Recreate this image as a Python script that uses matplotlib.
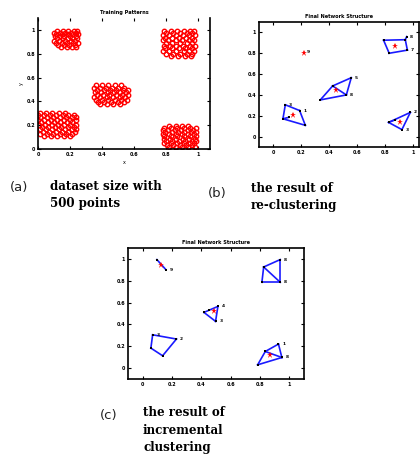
import matplotlib
matplotlib.use("Agg")
import matplotlib.pyplot as plt

# (a) training patterns: rows of points (y level -> x positions)
cluster_tl = {
    0.995: [0.12, 0.155, 0.19, 0.225, 0.245],
    0.978: [0.10, 0.135, 0.17, 0.205, 0.235],
    0.962: [0.115, 0.15, 0.185, 0.22, 0.25],
    0.945: [0.105, 0.14, 0.165, 0.20, 0.235],
    0.928: [0.12, 0.155, 0.19, 0.215, 0.245],
    0.910: [0.10, 0.13, 0.17, 0.205, 0.23],
    0.893: [0.115, 0.15, 0.18, 0.22, 0.25],
    0.875: [0.125, 0.16, 0.195, 0.23],
    0.857: [0.145, 0.18, 0.21, 0.24],
}
cluster_tr = {
    0.995: [0.79, 0.83, 0.87, 0.91, 0.95, 0.975],
    0.975: [0.80, 0.845, 0.885, 0.93, 0.965],
    0.955: [0.78, 0.82, 0.86, 0.905, 0.945, 0.98],
    0.935: [0.795, 0.835, 0.88, 0.925, 0.96],
    0.912: [0.78, 0.815, 0.865, 0.90, 0.945, 0.975],
    0.890: [0.80, 0.84, 0.885, 0.93, 0.965],
    0.868: [0.785, 0.825, 0.86, 0.905, 0.95, 0.98],
    0.845: [0.795, 0.84, 0.88, 0.92, 0.96],
    0.822: [0.78, 0.82, 0.865, 0.91, 0.945, 0.975],
    0.800: [0.80, 0.845, 0.885, 0.93, 0.965],
    0.780: [0.83, 0.875, 0.92, 0.955],
}
cluster_mid = {
    0.535: [0.36, 0.40, 0.44, 0.48, 0.52],
    0.515: [0.35, 0.385, 0.425, 0.465, 0.50, 0.54],
    0.495: [0.37, 0.41, 0.45, 0.49, 0.53, 0.56],
    0.475: [0.355, 0.395, 0.435, 0.475, 0.515, 0.55],
    0.455: [0.37, 0.405, 0.445, 0.49, 0.525, 0.56],
    0.435: [0.35, 0.39, 0.43, 0.47, 0.51, 0.545],
    0.415: [0.365, 0.40, 0.44, 0.48, 0.52, 0.555],
    0.395: [0.375, 0.415, 0.455, 0.50, 0.535],
    0.378: [0.39, 0.43, 0.47, 0.51],
}
cluster_bl = {
    0.305: [0.01, 0.05, 0.09, 0.13, 0.17],
    0.285: [0.0, 0.035, 0.075, 0.115, 0.155, 0.19, 0.225],
    0.265: [0.015, 0.055, 0.095, 0.135, 0.175, 0.21, 0.24],
    0.245: [0.0, 0.04, 0.08, 0.12, 0.16, 0.20, 0.235],
    0.225: [0.02, 0.06, 0.10, 0.14, 0.18, 0.215],
    0.205: [0.005, 0.045, 0.085, 0.125, 0.165, 0.20, 0.24],
    0.185: [0.025, 0.065, 0.105, 0.145, 0.185, 0.225],
    0.165: [0.01, 0.05, 0.09, 0.13, 0.17, 0.21, 0.24],
    0.145: [0.03, 0.07, 0.11, 0.15, 0.19, 0.23],
    0.125: [0.015, 0.055, 0.095, 0.135, 0.175, 0.215],
    0.105: [0.04, 0.08, 0.12, 0.16, 0.20],
}
cluster_br = {
    0.195: [0.82, 0.86, 0.90, 0.94],
    0.178: [0.79, 0.83, 0.87, 0.91, 0.95, 0.985],
    0.160: [0.78, 0.815, 0.855, 0.895, 0.935, 0.97],
    0.142: [0.795, 0.835, 0.875, 0.915, 0.955, 0.99],
    0.124: [0.78, 0.82, 0.86, 0.90, 0.94, 0.975],
    0.106: [0.79, 0.83, 0.87, 0.91, 0.95, 0.985],
    0.088: [0.785, 0.825, 0.865, 0.905, 0.945, 0.98],
    0.070: [0.80, 0.84, 0.88, 0.92, 0.96, 0.99],
    0.052: [0.79, 0.83, 0.87, 0.91, 0.95, 0.975],
    0.034: [0.805, 0.845, 0.885, 0.925, 0.965],
    0.016: [0.82, 0.86, 0.90, 0.94, 0.98],
    0.000: [0.84, 0.88, 0.92, 0.96],
}
clusters = [cluster_tl, cluster_tr, cluster_mid, cluster_bl, cluster_br]

# (b) re-clustering network: nodes, edges, centres, node labels
b_nodes = [(0.79, 0.925), (0.945, 0.93), (0.96, 0.83), (0.83, 0.80), (0.955, 0.96),
           (0.338, 0.352), (0.426, 0.486), (0.559, 0.565), (0.524, 0.40),
           (0.088, 0.305), (0.071, 0.171), (0.231, 0.108), (0.19, 0.25), (0.111, 0.184),
           (0.826, 0.136), (0.981, 0.232), (0.921, 0.067), (0.874, 0.162)]
b_edges = [(0, 1), (1, 2), (2, 3), (3, 0), (1, 4),
           (5, 6), (6, 7), (7, 8), (8, 5), (6, 8),
           (9, 12), (12, 11), (11, 10), (10, 9), (10, 13),
           (14, 15), (15, 16), (16, 14), (14, 17)]
b_centres = [(0.874, 0.867), (0.45, 0.448), (0.143, 0.21), (0.905, 0.137), (0.222, 0.80)]
b_labels = {4: "8", 2: "7", 7: "5", 8: "8", 12: "1", 9: "3", 15: "2", 16: "3"}
b_lone_label = (0.24, 0.815, "9")

# (c) incremental clustering network
c_nodes = [(0.097, 0.994), (0.158, 0.902),
           (0.938, 0.994), (0.825, 0.926), (0.813, 0.786), (0.938, 0.786),
           (0.418, 0.51), (0.513, 0.565), (0.497, 0.428), (0.455, 0.53),
           (0.068, 0.305), (0.056, 0.183), (0.136, 0.113), (0.23, 0.266),
           (0.926, 0.22), (0.836, 0.152), (0.784, 0.03), (0.949, 0.097)]
c_edges = [(0, 1),
           (3, 2), (2, 5), (5, 4), (4, 3), (3, 5),
           (6, 7), (7, 8), (8, 6),
           (10, 13), (13, 12), (12, 11), (11, 10),
           (15, 14), (14, 17), (17, 16), (16, 15), (15, 17)]
c_centres = [(0.124, 0.948), (0.486, 0.526), (0.87, 0.122)]
c_labels = {1: "9", 2: "8", 5: "8", 7: "4", 8: "3", 10: "3", 13: "2", 14: "1", 17: "8"}

ticks = [0, 0.2, 0.4, 0.6, 0.8, 1]
tick_labels = ["0", "0.2", "0.4", "0.6", "0.8", "1"]

W, H = 420, 454
fig = plt.figure(figsize=(W / 100, H / 100), dpi=100)


def box(left, top, right, bottom):
    return [left / W, 1 - bottom / H, (right - left) / W, (bottom - top) / H]


def style(ax, title):
    ax.set_xticks(ticks)
    ax.set_yticks(ticks)
    ax.set_xticklabels(tick_labels, fontsize=3.5, fontweight="bold")
    ax.set_yticklabels(tick_labels, fontsize=3.5, fontweight="bold")
    ax.tick_params(direction="in", length=2, width=0.8, pad=2,
                   top=True, right=True)
    for s in ax.spines.values():
        s.set_linewidth(1.2)
    ax.set_title(title, fontsize=3.6, fontweight="bold", pad=3)


def network(ax, nodes, edges, centres, labels):
    for i, j in edges:
        ax.plot([nodes[i][0], nodes[j][0]], [nodes[i][1], nodes[j][1]],
                color="#1a1aff", lw=1.2)
    ax.plot([p[0] for p in nodes], [p[1] for p in nodes], "s",
            color="black", ms=2.0, mew=0)
    ax.plot([p[0] for p in centres], [p[1] for p in centres], "*",
            color="red", ms=4.5, mew=0)
    for k, t in labels.items():
        ax.text(nodes[k][0] + 0.025, nodes[k][1], t, fontsize=3.2,
                fontweight="bold", va="center")


# (a)
ax_a = fig.add_axes(box(38, 18, 210, 149))
for c in clusters:
    xs = [x for y, row in c.items() for x in row]
    ys = [y for y, row in c.items() for x in row]
    ax_a.plot(xs, ys, "o", mfc="none", mec="red", ms=3.2, mew=1.0)
ax_a.set_xlim(0, 1.075)
ax_a.set_ylim(0, 1.1)
style(ax_a, "Training Patterns")
ax_a.spines["top"].set_visible(False)
ax_a.set_xlabel("x", fontsize=3.5, labelpad=2)
ax_a.set_ylabel("y", fontsize=3.5, labelpad=2)

# (b)
ax_b = fig.add_axes(box(259, 22, 419, 147))
network(ax_b, b_nodes, b_edges, b_centres, b_labels)
ax_b.text(b_lone_label[0], b_lone_label[1], b_lone_label[2], fontsize=3.2,
          fontweight="bold", va="center")
ax_b.set_xlim(-0.1, 1.043)
ax_b.set_ylim(-0.1, 1.1)
style(ax_b, "Final Network Structure")

# (c)
ax_c = fig.add_axes(box(128, 248, 304, 379))
network(ax_c, c_nodes, c_edges, c_centres, c_labels)
ax_c.set_xlim(-0.1, 1.1)
ax_c.set_ylim(-0.1, 1.1)
style(ax_c, "Final Network Structure")

# captions
cap_font = dict(family="DejaVu Serif", fontweight="bold", fontsize=8.6, va="center")
tag_font = dict(family="DejaVu Sans", fontsize=9.5, va="center", color="#222222")


def ftext(x, y, s, **kw):
    fig.text(x / W, 1 - y / H, s, **kw)


ftext(10, 188, "(a)", **tag_font)
ftext(50, 187, "dataset size with", **cap_font)
ftext(50, 203, "500 points", **cap_font)
ftext(208, 193, "(b)", **tag_font)
ftext(251, 188, "the result of", **cap_font)
ftext(251, 205, "re-clustering", **cap_font)
ftext(100, 415, "(c)", **tag_font)
ftext(143, 413, "the result of", **cap_font)
ftext(143, 430, "incremental", **cap_font)
ftext(143, 447, "clustering", **cap_font)

fig.savefig("out.png", dpi=100)
